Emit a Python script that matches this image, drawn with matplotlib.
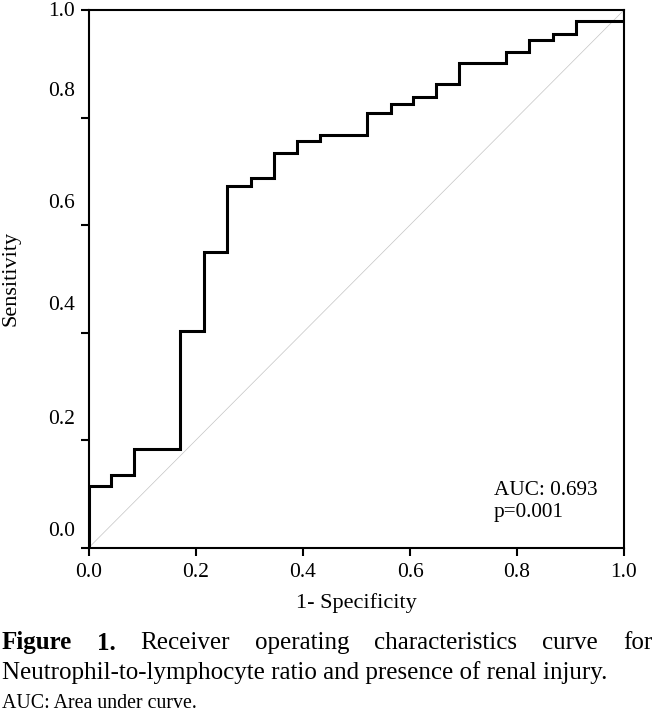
import numpy as np
import matplotlib
matplotlib.use("Agg")
import matplotlib.pyplot as plt
import matplotlib.transforms as mtransforms

plt.rcParams['font.family'] = ['Liberation Serif', 'DejaVu Serif']

# ROC step curve (1 - specificity, sensitivity)
fpr = [0.0, 0.0, 0.041, 0.041, 0.084, 0.084, 0.171, 0.171, 0.215, 0.215,
       0.258, 0.258, 0.302, 0.302, 0.345, 0.345, 0.389, 0.389, 0.432, 0.432,
       0.520, 0.520, 0.564, 0.564, 0.606, 0.606, 0.648, 0.648, 0.692, 0.692,
       0.780, 0.780, 0.823, 0.823, 0.868, 0.868, 0.911, 0.911, 1.0, 1.0]
tpr = [0.0, 0.115, 0.115, 0.134, 0.134, 0.183, 0.183, 0.403, 0.403, 0.550,
       0.550, 0.673, 0.673, 0.687, 0.687, 0.734, 0.734, 0.757, 0.757, 0.768,
       0.768, 0.808, 0.808, 0.826, 0.826, 0.839, 0.839, 0.862, 0.862, 0.902,
       0.902, 0.922, 0.922, 0.945, 0.945, 0.955, 0.955, 0.980, 0.980, 1.0]

ticks = [0.0, 0.2, 0.4, 0.6, 0.8, 1.0]
tick_labels = ["0.0", "0.2", "0.4", "0.6", "0.8", "1.0"]
# the source image has its y labels sitting above the ticks (pixels)
ylabel_shift = [19, 23, 30, 24, 29, 1]

auc_text = "AUC: 0.693\np=0.001"
caption1 = ["Figure", "1.", "Receiver", "operating", "characteristics", "curve", "for"]
caption2 = "Neutrophil-to-lymphocyte ratio and presence of renal injury."
note = "AUC: Area under curve."

W, H = 654, 711
fig = plt.figure(figsize=(W / 100, H / 100), dpi=100)
ax = fig.add_axes([89 / W, 1 - 547.5 / H, 535 / W, 537.5 / H])

ax.plot([0, 1], [0, 1], color='#c4c4c4', lw=0.5)
ax.plot(fpr, tpr, color='black', lw=2.2, solid_joinstyle='miter')

ax.set_xlim(0, 1)
ax.set_ylim(0, 1)
ax.set_xticks(ticks)
ax.set_xticklabels(tick_labels)
ax.set_yticks(ticks)
ax.set_yticklabels(tick_labels)
for s in ax.spines.values():
    s.set_linewidth(1.5)
ax.tick_params(direction='out', length=6, width=1.5, labelsize=15.5, pad=4)
ax.tick_params(axis='x', pad=5)

for lab, dy in zip(ax.get_yticklabels(), ylabel_shift):
    lab.set_transform(lab.get_transform() + mtransforms.Affine2D().translate(0, dy))

ax.set_xlabel("1- Specificity", fontsize=16, labelpad=8)
ax.set_ylabel("Sensitivity", fontsize=16, labelpad=20)

ax.text(0.757, 0.085, auc_text, transform=ax.transAxes, fontsize=15.3,
        va='center', ha='left', linespacing=1.2)

# justified first caption line
fig.canvas.draw()
r = fig.canvas.get_renderer()
words = []
for i, w in enumerate(caption1):
    t = fig.text(0, 1 - 643 / H, w, fontsize=18, va='center', ha='left',
                 fontweight='bold' if i < 2 else 'normal')
    words.append(t)
widths = [t.get_window_extent(r).width for t in words]
x_left, x_right = 2, 652
gap = (x_right - x_left - sum(widths)) / (len(words) - 1)
x = x_left
for t, wd in zip(words, widths):
    t.set_x(x / W)
    x += wd + gap

fig.text(2 / W, 1 - 673 / H, caption2, fontsize=18, va='center', ha='left')
fig.text(2 / W, 1 - 703 / H, note, fontsize=14.3, va='center', ha='left')

fig.savefig("out.png", dpi=100)
